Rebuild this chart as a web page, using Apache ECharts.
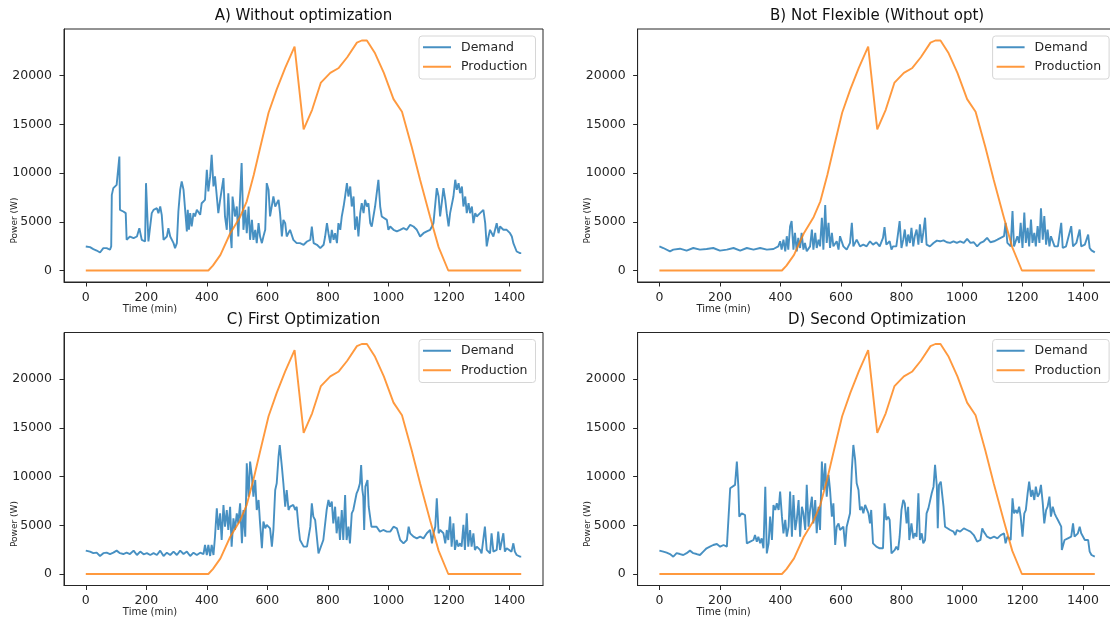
<!DOCTYPE html>
<html>
<head>
<meta charset="utf-8">
<script src="https://cdn.jsdelivr.net/npm/echarts@6/dist/echarts.min.js"></script>
<style>html,body{margin:0;padding:0;background:#fff}#c{width:1110px;height:624px}</style>
</head>
<body>
<div id="c"></div>
<script>
const titles = ['A) Without optimization', 'B) Not Flexible (Without opt)', 'C) First Optimization', 'D) Second Optimization'];
const xTicks = [0, 200, 400, 600, 800, 1000, 1200, 1400];
const yTicks = [0, 5000, 10000, 15000, 20000];

const production = [[0,0],[405,0],[420,500],[445,1600],[477,3800],[510,5500],[532,7100],[555,9800],[577,12700],[604,16200],[631,18600],[659,20800],[690,23000],[720,14500],[748,16500],[777,19300],[808,20300],[836,20800],[864,21900],[896,23400],[912,23620],[929,23620],[956,22300],[985,20300],[1017,17600],[1045,16300],[1077,12700],[1105,9300],[1138,5500],[1166,2400],[1198,0],[1439,0]];

const demandA = [[0,2470],[14,2400],[25,2200],[36,2050],[47,1850],[58,2300],[69,2300],[80,2130],[84,2470],[86,7770],[91,8460],[102,8800],[108,8970],[111,11710],[113,6230],[124,6060],[132,5890],[135,3150],[146,3490],[158,3320],[169,3490],[177,4350],[185,3150],[196,2980],[199,8970],[204,8970],[207,2980],[218,5890],[224,6230],[235,6400],[240,5890],[246,6570],[251,5720],[257,3150],[268,3490],[273,4350],[279,3490],[290,2810],[295,2300],[301,2810],[306,6060],[312,8290],[317,9150],[323,8290],[328,8290],[334,4020],[337,6230],[341,4200],[345,5890],[350,4520],[356,5890],[361,5550],[367,6230],[372,6400],[378,5720],[383,6910],[389,7090],[394,7260],[400,10340],[405,8120],[411,9660],[416,11880],[422,8630],[427,9660],[433,7600],[438,5890],[444,7260],[455,9490],[460,5550],[466,4180],[471,7940],[477,4180],[482,2300],[485,7600],[493,5550],[499,6570],[504,3490],[515,11030],[521,4180],[527,6230],[532,3830],[538,6570],[543,3150],[549,5200],[554,3150],[560,4180],[565,2810],[571,4860],[576,3490],[582,2810],[587,3490],[593,4180],[598,8970],[604,8290],[609,5550],[620,7600],[626,6570],[637,7260],[642,5890],[648,3490],[653,5200],[659,4860],[664,3490],[675,4180],[686,3150],[697,2810],[708,2810],[720,2640],[731,2980],[742,3150],[747,4520],[753,2810],[764,2640],[775,2300],[786,2640],[791,3490],[797,4860],[802,3830],[808,2810],[813,4180],[819,3150],[824,3830],[830,2810],[835,4860],[841,4180],[846,5550],[852,6570],[857,7600],[863,8970],[868,7600],[874,8630],[879,6570],[885,7600],[890,4180],[896,5550],[901,3490],[907,5890],[912,6910],[918,5890],[923,7260],[929,6570],[934,6910],[940,4860],[945,4520],[956,6570],[962,6740],[967,9320],[973,6570],[978,5550],[984,5550],[995,5200],[1000,4180],[1006,4520],[1017,4180],[1028,4020],[1039,4180],[1050,4350],[1061,4180],[1072,4690],[1083,4520],[1094,4180],[1105,3490],[1116,3830],[1127,4020],[1138,4180],[1144,4520],[1149,4860],[1160,8460],[1166,7600],[1171,5550],[1177,7090],[1182,8460],[1188,7260],[1193,5890],[1199,4520],[1204,5890],[1215,7600],[1221,9320],[1226,8290],[1232,8970],[1237,7940],[1243,8630],[1248,6570],[1254,7600],[1259,5890],[1265,6910],[1270,5890],[1276,6570],[1281,4860],[1287,5890],[1292,5550],[1303,5890],[1314,6230],[1320,4860],[1325,2470],[1331,3490],[1336,4180],[1347,3490],[1358,4860],[1364,3830],[1369,4520],[1380,4180],[1391,4180],[1402,3830],[1408,3490],[1413,2810],[1424,1950],[1435,1780],[1439,1780]];

const demandB = [[0,2480],[13,2310],[35,1970],[46,2140],[68,2240],[90,2040],[112,2310],[134,2140],[156,2210],[178,2310],[200,2040],[223,2140],[245,2310],[267,2040],[289,2310],[311,2140],[333,2310],[355,2140],[377,2210],[393,2480],[399,3000],[404,2140],[410,3170],[416,1970],[421,3520],[426,2140],[432,4550],[437,5070],[443,2140],[448,3860],[454,1970],[459,3350],[465,2310],[470,3860],[476,2140],[481,2830],[487,1970],[498,2480],[504,4210],[509,2140],[515,3860],[520,2310],[526,3170],[531,2480],[537,5420],[542,2140],[548,6730],[553,2830],[559,4900],[564,2310],[570,3860],[575,2480],[586,3000],[592,2140],[597,3520],[608,2480],[619,2140],[630,2830],[636,4900],[641,2480],[652,3170],[663,2480],[674,2660],[685,2480],[696,3000],[706,2660],[717,2900],[728,2480],[739,3350],[744,4450],[750,2660],[761,3000],[767,2140],[772,2480],[783,2480],[789,3860],[794,5070],[800,2310],[806,3170],[811,4210],[817,2480],[822,3690],[828,2830],[833,4380],[839,2480],[844,3520],[850,4210],[856,2660],[861,4730],[867,2830],[872,3860],[878,5420],[883,2660],[894,2480],[906,2830],[917,3070],[928,3000],[939,3100],[950,2900],[961,2830],[972,3000],[983,2830],[994,3000],[1006,2830],[1017,3240],[1028,2830],[1039,2900],[1050,2480],[1061,2830],[1072,3000],[1083,3350],[1094,2900],[1106,3000],[1117,3170],[1128,3350],[1139,3520],[1144,4900],[1150,2830],[1161,2480],[1167,6100],[1172,2480],[1183,3520],[1189,2830],[1194,4900],[1200,2310],[1206,5940],[1211,2830],[1217,4380],[1222,2480],[1228,5240],[1233,2830],[1239,3860],[1244,2480],[1250,4550],[1256,2830],[1261,6380],[1267,3170],[1272,5590],[1278,2660],[1283,4210],[1289,2480],[1294,3520],[1306,2480],[1317,2480],[1328,4900],[1333,2310],[1344,2480],[1361,4550],[1367,2480],[1378,2830],[1389,4210],[1394,2480],[1406,2660],[1417,3690],[1422,2310],[1428,2070],[1439,1860]];

const demandC = [[0,2400],[14,2300],[25,2140],[36,2190],[47,1850],[58,2140],[69,2190],[80,2050],[91,2190],[102,2400],[113,2140],[124,2050],[135,2190],[146,2050],[158,2400],[169,1950],[180,2300],[191,2020],[202,2140],[213,1950],[224,2140],[235,1950],[246,2400],[257,1850],[268,2190],[279,1950],[290,2300],[301,1950],[312,2400],[323,2050],[334,2300],[345,1850],[356,2190],[367,1950],[378,2190],[389,2050],[394,2980],[400,1950],[405,2980],[411,1850],[416,2980],[422,1950],[427,3830],[433,6750],[438,4520],[444,6230],[449,3490],[455,7090],[460,4860],[466,6570],[471,4520],[477,6910],[482,2810],[488,5720],[493,4520],[499,6230],[504,5200],[510,7260],[516,3150],[521,6570],[527,3830],[532,11370],[538,7940],[543,11540],[549,10000],[554,7940],[560,9660],[565,6570],[571,7600],[576,5200],[582,2640],[587,5380],[593,4690],[598,5040],[604,4860],[609,4690],[615,2810],[620,4520],[626,8630],[631,9320],[637,12060],[641,13250],[648,11030],[653,9320],[659,6910],[664,8630],[670,6570],[675,6910],[686,7090],[692,6570],[697,6910],[703,4860],[708,3490],[720,2810],[731,2810],[742,4860],[747,7260],[752,5890],[758,5550],[769,2120],[774,2120],[785,3490],[796,6570],[802,7600],[807,6910],[813,7430],[818,5200],[824,6910],[829,4180],[835,5890],[840,3490],[846,6570],[851,3490],[857,8120],[862,3490],[868,4860],[873,3150],[879,6230],[884,6570],[895,8290],[900,8630],[906,9320],[910,11200],[914,8630],[917,7940],[920,4520],[924,8970],[931,9660],[935,6910],[944,4860],[950,4690],[961,4860],[972,4350],[983,4520],[995,4350],[1006,4350],[1017,4860],[1028,4690],[1039,3490],[1050,3150],[1061,3490],[1067,4860],[1072,4180],[1083,3830],[1094,3660],[1105,3830],[1116,3660],[1127,4180],[1138,4520],[1144,3150],[1149,4180],[1155,4860],[1160,7770],[1166,4180],[1171,4520],[1182,4180],[1188,3150],[1193,4520],[1198,3490],[1204,5890],[1209,2810],[1215,5200],[1220,2470],[1226,3490],[1231,2810],[1237,3150],[1242,2810],[1248,5040],[1253,2470],[1259,6230],[1264,2810],[1270,4520],[1275,2810],[1281,4180],[1286,2470],[1292,2810],[1303,2470],[1308,2120],[1319,4860],[1325,2470],[1336,2120],[1341,4180],[1347,2300],[1358,2470],[1363,4350],[1369,2470],[1380,4180],[1385,2300],[1391,2640],[1396,2470],[1407,2300],[1413,3150],[1418,2300],[1424,1950],[1435,1780],[1439,1780]];

const demandD = [[0,2400],[13,2300],[24,2190],[35,2050],[46,1780],[57,2140],[68,2050],[79,1950],[90,2140],[101,2400],[112,2140],[123,2050],[134,1950],[145,2300],[156,2640],[167,2810],[178,2980],[190,3080],[201,2810],[212,2980],[223,2810],[228,2640],[234,8800],[239,8970],[250,9150],[256,11540],[261,8970],[264,5890],[272,6230],[283,6060],[289,3150],[300,3320],[311,3490],[316,4000],[322,3320],[327,3830],[333,3150],[338,3660],[344,2640],[350,8970],[355,2120],[361,3150],[366,5890],[372,3490],[377,7090],[383,6570],[388,7260],[394,6570],[399,8460],[405,5890],[410,4180],[416,5550],[421,3830],[427,4860],[432,8460],[438,3830],[443,8120],[449,4520],[454,5550],[460,7600],[465,3830],[471,6910],[476,6230],[482,4520],[487,9150],[493,4860],[498,6570],[504,7940],[509,5200],[515,7600],[520,4180],[526,6910],[531,4520],[537,11540],[542,8630],[548,11370],[553,7940],[559,10170],[564,8630],[570,5890],[575,7260],[581,2980],[586,4860],[592,5200],[597,4520],[608,4860],[614,2810],[619,4860],[625,4860],[630,6230],[636,10690],[641,13250],[647,11710],[652,9320],[658,8630],[663,6570],[669,6910],[674,6230],[680,7090],[685,6910],[691,6230],[696,5200],[700,6580],[706,3150],[717,2810],[728,2640],[739,2640],[744,7260],[750,5550],[756,5890],[761,5550],[767,2120],[772,2300],[778,2470],[783,2810],[789,2470],[794,3830],[800,6580],[806,7600],[811,7260],[817,5200],[822,6910],[826,3490],[833,5200],[839,3660],[844,4180],[850,3830],[856,8290],[861,3490],[867,4180],[872,3150],[878,3490],[883,6230],[889,6740],[894,6910],[900,8290],[906,8970],[911,11200],[917,8970],[920,4690],[924,9150],[930,9490],[933,9320],[939,6910],[944,4860],[950,4690],[961,4520],[972,4350],[978,4000],[983,4520],[994,4350],[1006,4690],[1017,4520],[1028,4350],[1039,4000],[1050,3320],[1061,3490],[1067,4690],[1072,4350],[1083,3830],[1094,3660],[1106,3830],[1117,3660],[1128,4000],[1139,4180],[1144,3150],[1150,3830],[1161,3490],[1167,7770],[1172,6230],[1178,6570],[1183,6230],[1189,6910],[1194,5890],[1200,3830],[1206,6230],[1211,6570],[1217,8290],[1222,9490],[1228,7940],[1233,8630],[1239,7600],[1244,8970],[1250,7940],[1256,8290],[1261,9150],[1267,7260],[1272,5200],[1278,6570],[1283,6910],[1289,7940],[1294,5890],[1300,6910],[1306,6230],[1311,5890],[1317,5550],[1328,4860],[1330,2470],[1333,2810],[1339,3490],[1350,3660],[1361,3830],[1367,5200],[1372,3830],[1378,3830],[1383,4180],[1389,4860],[1394,4180],[1406,3490],[1411,3660],[1417,3490],[1422,2300],[1428,1950],[1439,1780]];

const demands = [demandA, demandB, demandC, demandD];

const FONT = 'DejaVu Sans';
const INK = '#262626';
const panels = [
  {left: 64, top: 29},
  {left: 637.6, top: 29},
  {left: 64, top: 332.5},
  {left: 637.6, top: 332.5}
];
const PW = 479, PH = 253;

const option = {
  backgroundColor: '#fff',
  animation: false,
  textStyle: {fontFamily: FONT},
  title: panels.map((p, i) => ({
    text: titles[i], left: p.left + PW / 2, top: p.top - 20, textAlign: 'center', padding: 0,
    textStyle: {fontFamily: FONT, fontSize: 15, fontWeight: 'normal', color: '#111'}
  })),
  legend: panels.map((p, i) => ({
    data: ['Demand', 'Production'], orient: 'vertical',
    left: p.left + 355, top: p.top + 7,
    icon: 'rect', itemWidth: 28, itemHeight: 2, itemGap: 5,
    padding: [4, 8, 5, 4],
    borderColor: '#d6d6d6', borderWidth: 1, borderRadius: 3,
    backgroundColor: 'rgba(255,255,255,0.85)',
    textStyle: {fontFamily: FONT, fontSize: 12.5, color: INK, lineHeight: 14.5, padding: [0, 0, 0, 5]},
    selectedMode: false
  })),
  grid: panels.map(p => ({
    left: p.left, top: p.top, width: PW, height: PH,
    show: true, borderColor: INK, borderWidth: 1, backgroundColor: 'transparent',
    containLabel: false, outerBoundsMode: 'none'
  })),
  xAxis: panels.map((p, i) => ({
    type: 'value', gridIndex: i, min: -72, max: 1511,
    name: 'Time (min)', nameLocation: 'middle', nameGap: 22, nameMoveOverlap: false,
    nameTextStyle: {fontFamily: FONT, fontSize: 10, color: INK, padding: [0, 307, 0, 0]},
    axisLine: {show: true, onZero: false, lineStyle: {color: INK, width: 1}},
    axisTick: {show: true, length: 4.5, customValues: xTicks, lineStyle: {color: INK, width: 1}},
    axisLabel: {customValues: xTicks, formatter: v => String(v), fontFamily: FONT, fontSize: 12.5, color: INK, margin: 9},
    splitLine: {show: false}
  })),
  yAxis: panels.map((p, i) => ({
    type: 'value', gridIndex: i, min: -1181, max: 24801,
    name: 'Power (W)', nameLocation: 'middle', nameGap: 45, nameMoveOverlap: false,
    nameTextStyle: {fontFamily: FONT, fontSize: 9, color: INK, padding: [0, 130, 0, 0]},
    axisLine: {show: true, onZero: false, lineStyle: {color: INK, width: 1}},
    axisTick: {show: true, length: 4.5, customValues: yTicks, lineStyle: {color: INK, width: 1}},
    axisLabel: {customValues: yTicks, formatter: v => String(v), fontFamily: FONT, fontSize: 12.5, color: INK, margin: 12},
    splitLine: {show: false}
  })),
  series: []
};

panels.forEach((p, i) => {
  option.series.push({
    name: 'Demand', type: 'line', xAxisIndex: i, yAxisIndex: i, data: demands[i],
    showSymbol: false, symbol: 'none', z: 2,
    lineStyle: {color: 'rgba(31,119,180,0.82)', width: 1.9},
    itemStyle: {color: 'rgba(31,119,180,0.82)'}
  });
  option.series.push({
    name: 'Production', type: 'line', xAxisIndex: i, yAxisIndex: i, data: production,
    showSymbol: false, symbol: 'none', z: 3,
    lineStyle: {color: 'rgba(255,127,14,0.8)', width: 1.9},
    itemStyle: {color: 'rgba(255,127,14,0.8)'}
  });
});

const chart = echarts.init(document.getElementById('c'), null, {renderer: 'canvas'});
chart.setOption(option);
</script>
</body>
</html>
